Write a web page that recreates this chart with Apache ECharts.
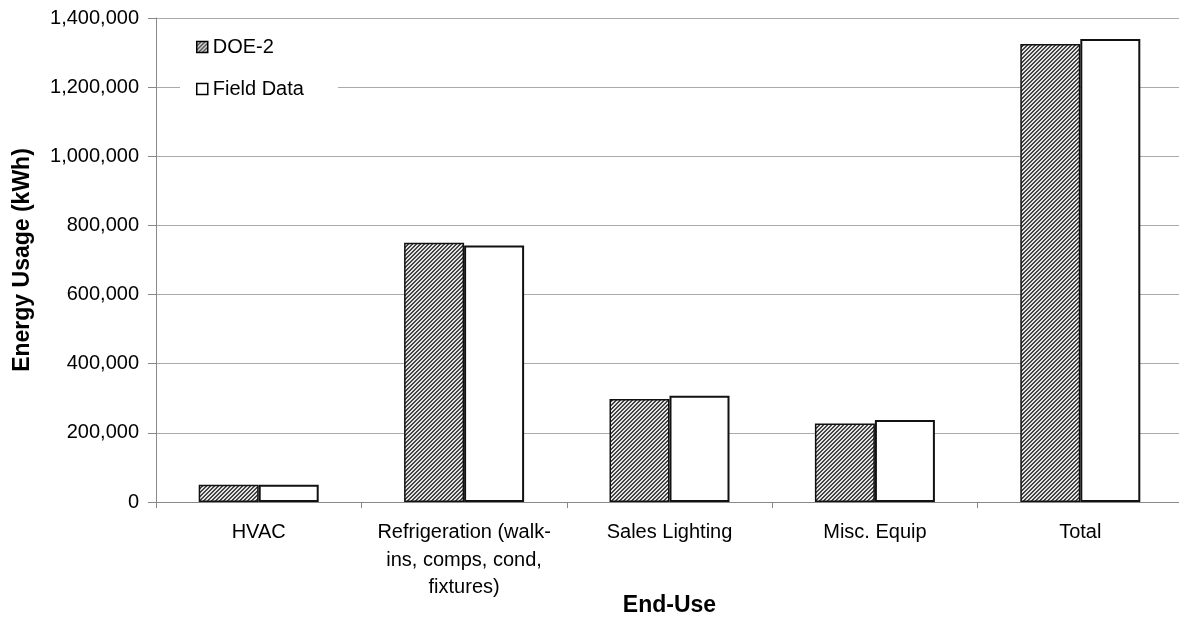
<!DOCTYPE html>
<html>
<head>
<meta charset="utf-8">
<script src="https://cdn.jsdelivr.net/npm/echarts@6/dist/echarts.min.js"></script>
<style>
html,body{margin:0;padding:0;background:#fff;overflow:hidden;}
#chart{width:1179px;height:618px;}
</style>
</head>
<body>
<div id="chart"></div>
<script>
const categories = ['HVAC', 'Refrigeration (walk-\nins, comps, cond,\nfixtures)', 'Sales Lighting', 'Misc. Equip', 'Total'];
const doe2 = [50000, 750000, 298000, 227000, 1325000];
const fieldData = [50000, 742000, 307000, 237000, 1339000];
const yTicks = [0, 200000, 400000, 600000, 800000, 1000000, 1200000, 1400000];

function hatch() {
  const n = 4;
  const c = document.createElement('canvas');
  c.width = n; c.height = n;
  const ctx = c.getContext('2d');
  ctx.fillStyle = '#e4e4e4';
  ctx.fillRect(0, 0, n, n);
  ctx.fillStyle = '#444';
  for (let i = 0; i < n; i++) {
    ctx.fillRect(i, n - 1 - i, 1, 1);
    ctx.fillRect((i + 1) % n, n - 1 - i, 1, 1);
  }
  return c;
}
const pat = { image: hatch(), repeat: 'repeat' };

const font = '"Liberation Sans", Arial, sans-serif';
const chart = echarts.init(document.getElementById('chart'));
chart.setOption({
  animation: false,
  backgroundColor: '#fff',
  textStyle: { fontFamily: font },
  grid: { left: 156, right: -4, top: 18, height: 484, containLabel: false, outerBoundsMode: 'none' },
  legend: {
    orient: 'vertical',
    left: 180,
    top: 25,
    padding: [12, 34, 12, 16],
    backgroundColor: '#fff',
    itemWidth: 11,
    itemHeight: 11,
    itemGap: 22,
    textStyle: { fontSize: 20, color: '#000', fontFamily: font },
    data: [
      { name: 'DOE-2', icon: 'rect', itemStyle: { color: pat, borderColor: '#000', borderWidth: 1.5 } },
      { name: 'Field Data', icon: 'rect', itemStyle: { color: '#fff', borderColor: '#000', borderWidth: 1.5 } }
    ]
  },
  xAxis: {
    type: 'category',
    data: categories,
    name: 'End-Use',
    nameLocation: 'middle',
    nameGap: 92,
    nameMoveOverlap: false,
    nameTextStyle: { fontSize: 23, fontWeight: 'bold', color: '#000', fontFamily: font },
    axisLine: { lineStyle: { color: '#888', width: 1 } },
    axisTick: { show: true, length: 6, lineStyle: { color: '#888' } },
    axisLabel: { interval: 0, fontSize: 20, lineHeight: 27.5, color: '#000', margin: 17, fontFamily: font }
  },
  yAxis: {
    type: 'value',
    min: yTicks[0],
    max: yTicks[yTicks.length - 1],
    interval: 200000,
    name: 'Energy Usage (kWh)',
    nameLocation: 'middle',
    nameGap: 122,
    nameMoveOverlap: false,
    nameTextStyle: { fontSize: 23, fontWeight: 'bold', color: '#000', fontFamily: font },
    axisLine: { show: true, lineStyle: { color: '#888', width: 1 } },
    axisTick: { show: true, length: 8, lineStyle: { color: '#888' } },
    axisLabel: {
      fontSize: 20, color: '#000', margin: 17, fontFamily: font,
      formatter: v => v.toLocaleString('en-US')
    },
    splitLine: { lineStyle: { color: '#aaa', width: 1 } }
  },
  series: [
    {
      name: 'DOE-2', type: 'bar', data: doe2, barWidth: 60, barGap: '0%',
      itemStyle: { color: pat, borderColor: '#111', borderWidth: 1.5 }
    },
    {
      name: 'Field Data', type: 'bar', data: fieldData, barWidth: 60, barGap: '0%',
      itemStyle: { color: '#fff', borderColor: '#111', borderWidth: 2 }
    }
  ]
});
</script>
</body>
</html>
